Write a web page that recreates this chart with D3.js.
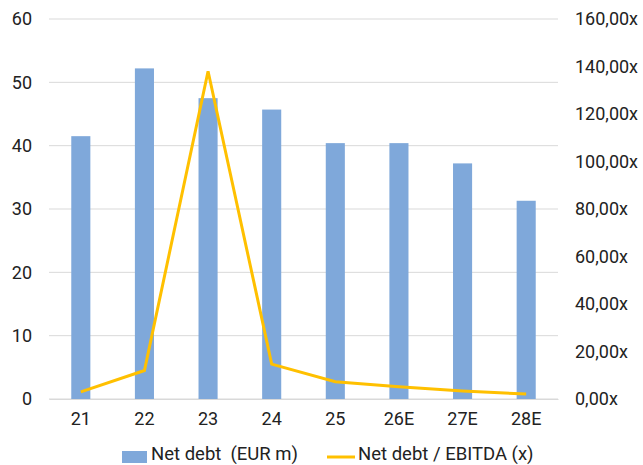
<!DOCTYPE html>
<html><head><meta charset="utf-8">
<script src="https://cdn.jsdelivr.net/npm/d3@7"></script>
<style>body{margin:0;background:#fff;}svg{display:block;font-family:Roboto,sans-serif;}</style>
</head><body>
<svg id="c" width="643" height="465"></svg>
<script>
const categories = ["21","22","23","24","25","26E","27E","28E"];
const netDebt = [41.5, 52.2, 47.5, 45.7, 40.4, 40.4, 37.2, 31.3];
const netDebtEbitda = [3.0, 12.0, 138.0, 14.7, 7.3, 5.2, 3.4, 2.1];
const leftTicks = [0,10,20,30,40,50,60];
const rightTicks = [0,20,40,60,80,100,120,140,160];
const seriesNames = ["Net debt  (EUR m)", "Net debt / EBITDA (x)"];

const svg = d3.select("#c");
const x0 = 49, x1 = 558, yTop = 19, yBot = 399;
const x = d3.scaleBand().domain(categories).range([x0, x1]).paddingInner(0.7).paddingOuter(0.35);
const yL = d3.scaleLinear().domain([0,60]).range([yBot, yTop]);
const yR = d3.scaleLinear().domain([0,160]).range([yBot, yTop]);
const fs = 18;

// grid
svg.append("g").selectAll("line").data(leftTicks).join("line")
  .attr("x1", x0).attr("x2", x1).attr("y1", d=>yL(d)).attr("y2", d=>yL(d))
  .attr("stroke", "#d9d9d9").attr("stroke-width", 1);

// left axis
const gl = svg.append("g").attr("transform", `translate(${x0},0)`)
  .call(d3.axisLeft(yL).tickValues(leftTicks).tickSize(0).tickPadding(17));
gl.select(".domain").remove();
gl.selectAll("text").attr("font-size", fs).attr("font-family","Roboto,sans-serif").attr("fill","#222");

// right axis
const gr = svg.append("g").attr("transform", `translate(${x1},0)`)
  .call(d3.axisRight(yR).tickValues(rightTicks).tickSize(0).tickPadding(17)
    .tickFormat(d => d3.format(".2f")(d).replace(".", ",") + "x"));
gr.select(".domain").remove();
gr.selectAll("text").attr("font-size", fs).attr("font-family","Roboto,sans-serif").attr("fill","#222");

// bars
svg.append("g").selectAll("rect").data(netDebt).join("rect")
  .attr("x", (d,i)=>x(categories[i])).attr("width", x.bandwidth())
  .attr("y", d=>yL(d)).attr("height", d=>yBot - yL(d))
  .attr("fill", "#7fa8da");

// x axis
const gx = svg.append("g").attr("transform", `translate(0,${yBot})`)
  .call(d3.axisBottom(x).tickSize(0).tickPadding(13));
gx.select(".domain").attr("stroke","#d9d9d9");
gx.selectAll("text").attr("font-size", fs).attr("font-family","Roboto,sans-serif").attr("fill","#222");

// line
const line = d3.line().x((d,i)=>x(categories[i]) + x.bandwidth()/2).y(d=>yR(d));
svg.append("path").datum(netDebtEbitda).attr("d", line)
  .attr("fill","none").attr("stroke","#ffc000").attr("stroke-width",3).attr("stroke-linejoin","miter");

// legend
const lg = svg.append("g");
lg.append("rect").attr("x",122).attr("y",451).attr("width",25).attr("height",12).attr("fill","#7fa8da");
lg.append("text").attr("x",151).attr("y",460).attr("font-size",18.5).attr("fill","#222")
  .style("white-space","pre").text(seriesNames[0]);
lg.append("line").attr("x1",327).attr("x2",355).attr("y1",457).attr("y2",457).attr("stroke","#ffc000").attr("stroke-width",3);
lg.append("text").attr("x",358).attr("y",460).attr("font-size",18.5).attr("fill","#222").text(seriesNames[1]);
</script>
</body></html>
